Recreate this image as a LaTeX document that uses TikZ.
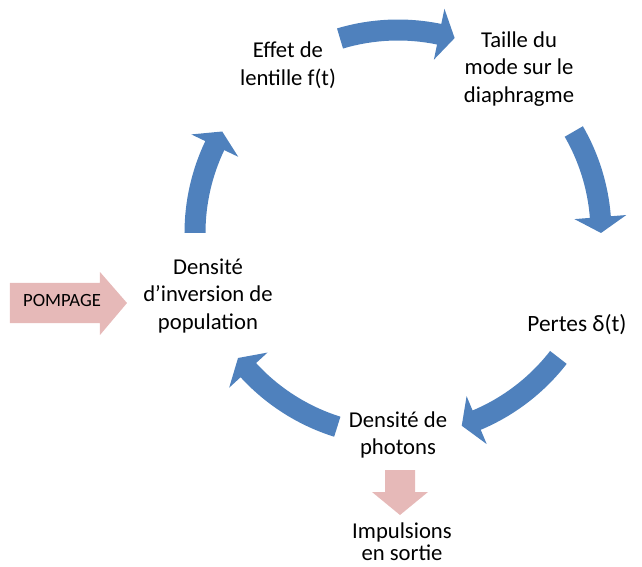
\documentclass[tikz,border=0pt]{standalone}
\usepackage{fontspec}
\setmainfont{Carlito}
\definecolor{cycleblue}{RGB}{79,129,189}
\definecolor{pumppink}{RGB}{230,185,184}

% tail angle, tip angle (around the centre of the cycle)
\newcommand{\cyclearrow}[2]{%
  \fill[cycleblue] (#1:213.5) arc[start angle=#1, end angle=#2+4.5, radius=213.5]
    -- (#2+4.5:229) -- (#2:203) -- (#2+4.5:177) -- (#2+4.5:192.5)
    arc[start angle=#2+4.5, end angle=#1, radius=192.5] -- cycle;}

\tikzset{
  cyclelabel/.style={align=center, inner sep=0pt, font=\fontsize{17}{20.6}\selectfont},
  outlabel/.style={align=center, inner sep=0pt, font=\fontsize{17}{16.5}\selectfont},
  pumplabel/.style={inner sep=0pt, font=\fontsize{14}{16}\selectfont}
}

\begin{document}
\begin{tikzpicture}[x=0.75pt, y=0.75pt]
    \useasboundingbox (-398,-334) rectangle (244,233);

    \cyclearrow{106.6}{73.8}
    \cyclearrow{30}{0}
    \cyclearrow{-37.8}{-71.7}
    \cyclearrow{-107.4}{-142}
    \cyclearrow{180}{150}

    \node[cyclelabel] (effet) at (-110,168) {Effet de\\lentille f(t)};
    \node[cyclelabel] (taille) at (121,164) {Taille du\\mode sur le\\diaphragme};
    \node[cyclelabel, font=\fontsize{17.5}{20.6}\selectfont] (pertes) at (179,-92) {Pertes δ(t)};
    \node[cyclelabel] (photons) at (0,-202) {Densité de\\photons};
    \node[cyclelabel] (inversion) at (-190,-63) {Densité\\d’inversion de\\population};
    \node[outlabel] (sortie) at (4,-309) {Impulsions\\en sortie};

    % pink arrows
    \fill[pumppink] (-388,-50) -- (-298,-50) -- (-298,-39) -- (-271,-70)
      -- (-298,-102) -- (-298,-90) -- (-388,-90) -- cycle;
    \node[pumplabel] (pompage) at (-336,-68) {POMPAGE};
    \fill[pumppink] (-13,-237) -- (17,-237) -- (17,-259) -- (30,-259)
      -- (2,-282) -- (-26,-259) -- (-13,-259) -- cycle;
\end{tikzpicture}
\end{document}
